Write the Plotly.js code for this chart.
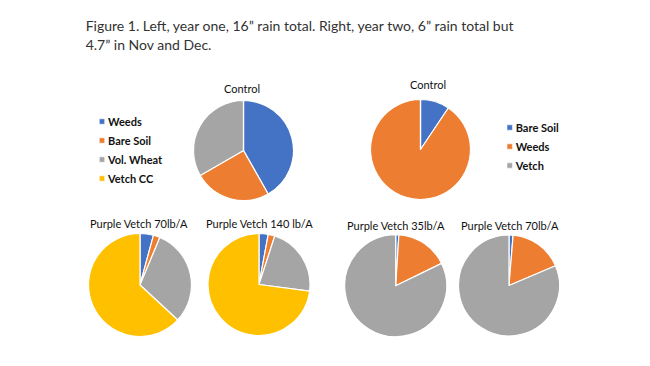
<!DOCTYPE html>
<html>
<head>
<meta charset="utf-8">
<script src="https://cdn.plot.ly/plotly-3.0.1.min.js"></script>
<style>
  html, body { margin: 0; padding: 0; background: #fff; }
  #chart { width: 650px; height: 366px; }
  #chart .legendpoints path { transform: translate(34px, 0px) scale(0.45); }
</style>
</head>
<body>
<div id="chart"></div>
<script>
// ---- data ----
var year1Labels = ['Weeds', 'Bare Soil', 'Vol. Wheat', 'Vetch CC'];
var year1Colors = ['#4472C4', '#ED7D31', '#A5A5A5', '#FFC000'];
var y1Control = [41.8, 24.9, 33.3, 0];
var y1Vetch70 = [4.2, 2.1, 30.6, 63.1];
var y1Vetch140 = [2.9, 2.1, 22.1, 72.9];

var year2Labels = ['Bare Soil', 'Weeds', 'Vetch'];
var year2Colors = ['#4472C4', '#ED7D31', '#A5A5A5'];
var y2Control = [9.4, 90.6, 0];
var y2Vetch35 = [1.0, 16.8, 82.2];
var y2Vetch70 = [1.3, 17.3, 81.4];

var pieTitles = ['Control', 'Control', 'Purple Vetch 70lb/A', 'Purple Vetch 140 lb/A', 'Purple Vetch 35lb/A', 'Purple Vetch 70lb/A'];
var figTitle = 'Figure 1. Left, year one, 16\u201d rain total. Right, year two, 6\u201d rain total but<br>4.7\u201d in Nov and Dec.';

// ---- layout helpers ----
var W = 650, H = 366;
function dom(cx, cy, r) {
  return { x: [(cx - r) / W, (cx + r) / W], y: [(H - cy - r) / H, (H - cy + r) / H] };
}
function pie(labels, values, colors, d, legendId, group, show) {
  return {
    type: 'pie', labels: labels, values: values, sort: false, direction: 'clockwise', rotation: 0,
    marker: { colors: colors, line: { color: '#ffffff', width: 1.2 } },
    textinfo: 'none', hoverinfo: 'label+value', domain: d,
    legend: legendId, legendgroup: group, showlegend: show
  };
}

var data = [
  pie(year1Labels, y1Control, year1Colors, dom(243.5, 150.5, 50), 'legend', 'year1', true),
  pie(year2Labels, y2Control, year2Colors, dom(420.5, 149.5, 50), 'legend2', 'year2', true),
  pie(year1Labels, y1Vetch70, year1Colors, dom(140, 285, 51.5), 'legend', 'year1', false),
  pie(year1Labels, y1Vetch140, year1Colors, dom(259, 284.5, 51), 'legend', 'year1', false),
  pie(year2Labels, y2Vetch35, year2Colors, dom(395.7, 285.7, 51), 'legend2', 'year2', false),
  pie(year2Labels, y2Vetch70, year2Colors, dom(509, 285.5, 50.5), 'legend2', 'year2', false)
];

var titlePos = [[241.7, 88.3], [428, 84.3], [138.5, 223.3], [259, 223.3], [395.8, 225], [510.3, 225]];
var annotations = pieTitles.map(function (t, i) {
  return {
    text: t, xref: 'paper', yref: 'paper', x: titlePos[i][0] / W, y: 1 - titlePos[i][1] / H,
    xanchor: 'center', yanchor: 'middle', showarrow: false,
    font: { family: 'Lato, sans-serif', size: 11, color: '#111111' }
  };
});

var legendFont = { family: 'Lato, sans-serif', size: 11, color: '#111111', weight: 'bold' };
var layout = {
  width: W, height: H,
  margin: { l: 0, r: 0, t: 0, b: 0 },
  paper_bgcolor: '#ffffff', plot_bgcolor: '#ffffff',
  title: {
    text: figTitle, xref: 'container', yref: 'container',
    x: 85.7 / W, xanchor: 'left', y: 1 - 31.3 / H, yanchor: 'middle',
    font: { family: 'Lato, sans-serif', size: 14, color: '#333333', weight: 400 }
  },
  legend: {
    x: 68 / W, xanchor: 'left', y: 1 - 107 / H, yanchor: 'top',
    font: legendFont, bgcolor: 'rgba(0,0,0,0)', traceorder: 'normal', tracegroupgap: 0
  },
  legend2: {
    x: 475.7 / W, xanchor: 'left', y: 1 - 113 / H, yanchor: 'top',
    font: legendFont, bgcolor: 'rgba(0,0,0,0)', traceorder: 'normal', tracegroupgap: 0
  },
  annotations: annotations,
  showlegend: true
};

Plotly.newPlot('chart', data, layout, { displayModeBar: false, staticPlot: true });
</script>
</body>
</html>
